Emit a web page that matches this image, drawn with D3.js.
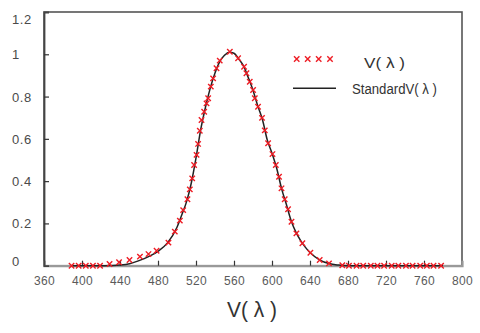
<!DOCTYPE html>
<html><head><meta charset="utf-8">
<script src="https://cdn.jsdelivr.net/npm/d3@7"></script>
<style>
html,body{margin:0;padding:0;background:#fff;}
svg{display:block;}
</style>
</head><body>
<svg id="c" width="480" height="333"></svg>
<script>
// ---- data ----
const markerWl = [389,396.5,404,411.5,419,429,439,450,461,470,478.5,491,497.7,503,506.5,511,513.5,516,518,520.6,522.2,524,525.8,528.6,531.1,532.8,535.6,538,541.6,545,555.6,564.3,570.6,573.1,576.6,580.1,581.9,585.3,589.5,592.4,595.9,600.5,604,607.4,610,613.4,616.9,620.5,625.7,632,640.4,650.2,660,674,681,689,696,704,711,718,726,733,741,748,756,763,770,778];
const markerV  = [0,0,0,0,0,0.008,0.016,0.027,0.043,0.055,0.071,0.109,0.161,0.213,0.263,0.314,0.361,0.413,0.476,0.524,0.576,0.638,0.689,0.728,0.768,0.792,0.847,0.886,0.934,0.970,1.012,0.981,0.941,0.910,0.870,0.831,0.792,0.752,0.699,0.640,0.579,0.528,0.476,0.421,0.366,0.314,0.267,0.208,0.153,0.106,0.061,0.027,0.011,0.002,0,0,0,0,0,0,0,0,0,0,0,0,0,0];
const lineWl = [390,400,410,420,430,440,450,460,470,480,490,500,505,510,515,520,525,530,535,540,545,550,555,560,565,570,575,580,585,590,595,600,605,610,615,620,625,630,635,640,650,660,670,680,700,780];
const lineV  = [0,0,0,0,0.001,0.003,0.009,0.024,0.043,0.068,0.108,0.182,0.24,0.302,0.39,0.51,0.645,0.75,0.84,0.912,0.965,0.995,1.01,1.005,0.978,0.945,0.89,0.83,0.756,0.69,0.595,0.532,0.46,0.366,0.292,0.215,0.16,0.12,0.088,0.062,0.028,0.01,0.003,0,0,0];
const xTicks = [360,400,440,480,520,560,600,640,680,720,760,800];
const yTicks = [0,0.2,0.4,0.6,0.8,1,1.2];
const legendLabels = ["V( λ )", "StandardV( λ )"];
const axisTitle = "V( λ )";

// ---- layout ----
const svg = d3.select("#c");
const L = 44, R = 462, T = 12, B = 265.7;
const x = d3.scaleLinear().domain([360,800]).range([L,R]);
const y = d3.scaleLinear().domain([0,1.2]).range([B,T]);

// frame
svg.append("rect").attr("x",L).attr("y",T).attr("width",R-L).attr("height",B-T)
  .attr("fill","none").attr("stroke","#555").attr("stroke-width",1.6);

// x axis
const gx = svg.append("g").attr("transform",`translate(0,${B})`)
  .call(d3.axisBottom(x).tickValues(xTicks).tickFormat(d3.format("d")).tickSize(-5).tickPadding(13));
gx.select(".domain").attr("stroke","#999").attr("stroke-width",2.2);
gx.selectAll(".tick line").attr("stroke","#333").attr("stroke-width",1.2)
  .style("display",d=> (d===360||d===800)?"none":null);
gx.selectAll(".tick text").attr("fill","#5a5a5a").style("font","12px 'Liberation Sans', Arial, sans-serif")
  .attr("letter-spacing","0.4").attr("dy","0.5em");

// y axis
const gy = svg.append("g").attr("transform",`translate(${L},0)`)
  .call(d3.axisLeft(y).tickValues(yTicks).tickFormat(d=>d3.format("")(d)).tickSize(-5));
gy.select(".domain").attr("stroke","#444").attr("stroke-width",1.8);
gy.selectAll(".tick line").attr("stroke","#333").attr("stroke-width",1.2)
  .style("display",d=> (d===0||d===1.2)?"none":null);
gy.selectAll(".tick text").attr("fill","#4a4a4a").attr("text-anchor","start").attr("x",-32)
  .style("font","13px 'Liberation Sans', Arial, sans-serif").attr("letter-spacing","0.6")
  .attr("dy", d=> d===1.2 ? "0.85em" : d===0 ? "-0.05em" : "0.35em");

// standard line
const lineData = lineWl.map((w,i)=>[w,lineV[i]]);
svg.append("path").datum(lineData)
  .attr("d", d3.line().x(d=>x(d[0])).y(d=>y(d[1])).curve(d3.curveMonotoneX))
  .attr("fill","none").attr("stroke","#222").attr("stroke-width",1.5);

// markers
const cross = "M-2.7,-2.7L2.7,2.7M-2.7,2.7L2.7,-2.7";
const mk = markerWl.map((w,i)=>[w,markerV[i]]);
svg.append("g").selectAll("path").data(mk).join("path")
  .attr("transform",d=>`translate(${x(d[0])},${y(d[1])})`)
  .attr("d",cross).attr("stroke","#ee1c24").attr("stroke-width",1.4).attr("fill","none");

// legend
const lg = svg.append("g");
[296.7,307.7,318.7,330].forEach(px=>{
  lg.append("path").attr("transform",`translate(${px},59)`).attr("d",cross)
    .attr("stroke","#ee1c24").attr("stroke-width",1.4).attr("fill","none");
});
lg.append("text").attr("x",364).attr("y",68).text(legendLabels[0])
  .attr("fill","#333").style("font","15px 'Liberation Sans', Arial, sans-serif")
  .attr("textLength",41).attr("lengthAdjust","spacingAndGlyphs");
lg.append("line").attr("x1",293).attr("x2",336).attr("y1",88.3).attr("y2",88.3)
  .attr("stroke","#222").attr("stroke-width",1.5);
lg.append("text").attr("x",352).attr("y",93.5).text(legendLabels[1])
  .attr("fill","#333").style("font","14px 'Liberation Sans', Arial, sans-serif")
  .attr("textLength",85).attr("lengthAdjust","spacingAndGlyphs");

// axis title
svg.append("text").attr("x",227).attr("y",317).text(axisTitle)
  .attr("fill","#333").style("font","22px 'Liberation Sans', Arial, sans-serif")
  .attr("textLength",50).attr("lengthAdjust","spacingAndGlyphs");
</script>
</body></html>
